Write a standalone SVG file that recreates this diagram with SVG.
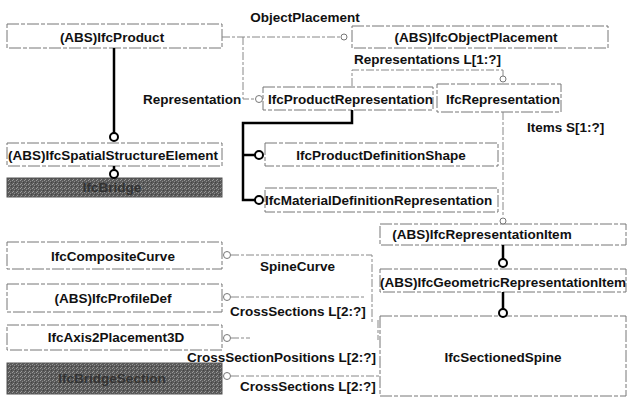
<svg xmlns="http://www.w3.org/2000/svg" width="627" height="403" viewBox="0 0 627 403">
<defs>
<style>
text{font-family:"Liberation Sans",Arial,sans-serif;font-weight:bold;font-size:13.5px;fill:#111;}
.c{text-anchor:middle;dominant-baseline:central;}
.l{dominant-baseline:central;}
.box{fill:#fff;stroke:#777;stroke-width:1;stroke-dasharray:12 2 4 2;}
.dark{fill:url(#stip);stroke:#555;stroke-width:1;}
.dk{fill:#333;}
.thick{fill:none;stroke:#000;stroke-width:2.5;}
.thin{fill:none;stroke:#888;stroke-width:1;stroke-dasharray:8 2 3 2;}
.circ{fill:#fff;stroke:#000;stroke-width:2;}
.sc{fill:#fff;stroke:#777;stroke-width:1;}
</style>
<pattern id="stip" width="4" height="4" patternUnits="userSpaceOnUse">
<rect width="4" height="4" fill="#5a5a5a"/>
<rect x="0" y="0" width="1" height="1" fill="#999"/>
<rect x="2" y="1" width="1" height="1" fill="#8a8a8a"/>
<rect x="1" y="3" width="1" height="1" fill="#9a9a9a"/>
<rect x="3" y="2" width="1" height="1" fill="#444"/>
</pattern>
</defs>

<g id="IfcProduct"><rect class="box" x="7" y="24" width="215" height="24"/><text class="c" x="112" y="37">(ABS)IfcProduct</text></g>
<g id="IfcObjectPlacement"><rect class="box" x="352" y="26" width="256" height="22"/><text class="c" x="476" y="37">(ABS)IfcObjectPlacement</text></g>
<g id="IfcProductRepresentation"><rect class="box" x="263" y="87" width="170" height="23"/><text class="l" x="268" y="99">IfcProductRepresentation</text></g>
<g id="IfcRepresentation"><rect class="box" x="437" y="84" width="124" height="28"/><text class="l" x="446" y="99">IfcRepresentation</text></g>
<g id="IfcSpatialStructureElement"><rect class="box" x="7" y="143" width="215" height="23"/><text class="c" x="113" y="155">(ABS)IfcSpatialStructureElement</text></g>
<g id="IfcBridge"><rect class="dark" x="7" y="178" width="215" height="19"/><text class="c dk" x="112" y="187">IfcBridge</text></g>
<g id="IfcProductDefinitionShape"><rect class="box" x="265" y="143" width="233" height="23"/><text class="c" x="381" y="155">IfcProductDefinitionShape</text></g>
<g id="IfcMaterialDefinitionRepresentation"><rect class="box" x="265" y="188" width="233" height="24"/><text class="l" x="265" y="200">IfcMaterialDefinitionRepresentation</text></g>
<g id="IfcRepresentationItem"><rect class="box" x="380" y="224" width="246" height="21"/><text class="c" x="482" y="234">(ABS)IfcRepresentationItem</text></g>
<g id="IfcGeometricRepresentationItem"><rect class="box" x="380" y="269" width="246" height="23"/><text class="c" x="503" y="282">(ABS)IfcGeometricRepresentationItem</text></g>
<g id="IfcSectionedSpine"><rect class="box" x="380" y="316" width="246" height="80"/><text class="c" x="503" y="357">IfcSectionedSpine</text></g>
<g id="IfcCompositeCurve"><rect class="box" x="7" y="242" width="215" height="27"/><text class="c" x="113" y="256">IfcCompositeCurve</text></g>
<g id="IfcProfileDef"><rect class="box" x="7" y="284" width="215" height="28"/><text class="c" x="113" y="298">(ABS)IfcProfileDef</text></g>
<g id="IfcAxis2Placement3D"><rect class="box" x="7" y="325" width="215" height="25"/><text class="c" x="116" y="337">IfcAxis2Placement3D</text></g>
<g id="IfcBridgeSection"><rect class="dark" x="7" y="363" width="215" height="31"/><text class="c dk" x="112" y="378">IfcBridgeSection</text></g>

<g id="connectors">
<path class="thick" d="M114,48 V133"/>
<circle class="circ" cx="114" cy="137" r="4"/>
<path class="thick" d="M114,166 V170"/>
<circle class="circ" cx="114" cy="174" r="4"/>
<path class="thin" d="M222,37 H340"/>
<circle class="sc" cx="344" cy="37" r="3"/>
<path class="thin" d="M243,37 V99 H255"/>
<circle class="sc" cx="259" cy="99" r="3.5"/>
<path class="thin" d="M352,86 V70 H503 V76"/>
<circle class="sc" cx="503" cy="79" r="3"/>
<path class="thick" d="M352,110 V123 H243 V200 H255"/>
<path class="thick" d="M243,155 H255"/>
<circle class="circ" cx="259" cy="155" r="4"/>
<circle class="circ" cx="259" cy="200" r="4"/>
<path class="thin" d="M503,112 V217"/>
<circle class="sc" cx="503" cy="221" r="3"/>
<path class="thick" d="M503,245 V259"/>
<circle class="circ" cx="503" cy="263" r="4"/>
<path class="thick" d="M503,292 V309"/>
<circle class="circ" cx="503" cy="313" r="4"/>
<path class="thin" d="M231,255 H372 V324"/>
<circle class="sc" cx="227" cy="255" r="3.5"/>
<path class="thin" d="M231,297 H366"/>
<circle class="sc" cx="227" cy="297" r="3.5"/>
<path class="thin" d="M231,338 H250"/>
<circle class="sc" cx="227" cy="338" r="3.5"/>
<path class="thin" d="M231,376 H380"/>
<circle class="sc" cx="227" cy="376" r="3.5"/>
<path class="thin" d="M378,320 V340"/>
<text class="c" x="305" y="17">ObjectPlacement</text>
<text class="l" x="354" y="59">Representations L[1:?]</text>
<text class="l" x="143" y="99">Representation</text>
<text class="l" x="527" y="127">Items S[1:?]</text>
<text class="l" x="260" y="266">SpineCurve</text>
<text class="l" x="230" y="311">CrossSections L[2:?]</text>
<text class="l" x="187" y="357">CrossSectionPositions L[2:?]</text>
<text class="l" x="240" y="386">CrossSections L[2:?]</text>
</g>
</svg>
